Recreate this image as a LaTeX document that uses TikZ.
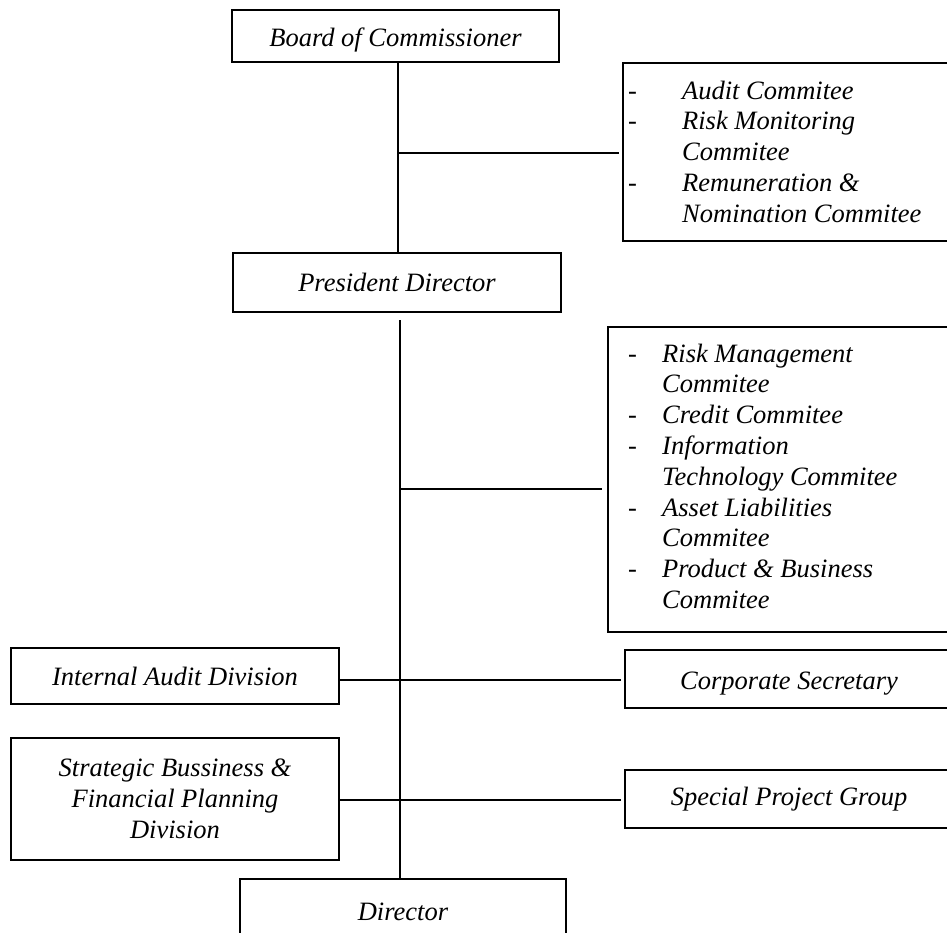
\documentclass[tikz,border=0pt]{standalone}
\usepackage{fontspec}
\setmainfont{Liberation Serif}
\begin{document}
\begin{tikzpicture}[x=1pt,y=-1pt,
  every node/.style={font=\itshape\fontsize{26.5}{30.8}\selectfont},
  orgbox/.style={draw=black, line width=1.5pt, rectangle, inner sep=0pt, align=center},
  listtext/.style={inner sep=0pt, align=left, anchor=north west},
  link/.style={line width=1.5pt}]
\useasboundingbox (0,0) rectangle (947,933);
\clip (0,0) rectangle (947,933);

% boxes (the tall struts lower the single-line labels a little)
\node[orgbox, minimum width=327pt, minimum height=52pt] (boc) at (395.5,36) {\rule{0pt}{27pt}Board of Commissioner};
\node[orgbox, minimum width=328pt, minimum height=59pt] (pd) at (397,282.5) {President Director};
\node[orgbox, minimum width=332pt, minimum height=178pt] (com1) at (789,152) {};
\node[orgbox, minimum width=347pt, minimum height=305pt] (com2) at (781.5,479.5) {};
\node[orgbox, minimum width=328pt, minimum height=56pt] (iad) at (175,676) {Internal Audit Division};
\node[orgbox, minimum width=328pt, minimum height=58pt] (cs) at (789,679) {\rule{0pt}{26pt}Corporate Secretary};
\node[orgbox, minimum width=328pt, minimum height=122pt] (sbf) at (175,799)
  {Strategic Bussiness \&\\Financial Planning\\Division};
\node[orgbox, minimum width=328pt, minimum height=58pt] (spg) at (789,799) {Special Project Group};
\node[orgbox, minimum width=326pt, minimum height=66pt] (dir) at (403,912) {Director};

% committee lists (the strut fixes the first baseline below the top anchor)
\node[listtext] (list1) at (628,77.4)
  {\strut\makebox[54pt][l]{-}Audit Commitee\\
   \makebox[54pt][l]{-}Risk Monitoring\\
   \hspace*{54pt}Commitee\\
   \makebox[54pt][l]{-}Remuneration \&\\
   \hspace*{54pt}Nomination Commitee};
\node[listtext] (list2) at (628,340.4)
  {\strut\makebox[34pt][l]{-}Risk Management\\
   \hspace*{34pt}Commitee\\
   \makebox[34pt][l]{-}Credit Commitee\\
   \makebox[34pt][l]{-}Information\\
   \hspace*{34pt}Technology Commitee\\
   \makebox[34pt][l]{-}Asset Liabilities\\
   \hspace*{34pt}Commitee\\
   \makebox[34pt][l]{-}Product \& Business\\
   \hspace*{34pt}Commitee};

% junction points on the spines
\coordinate (j1) at (398,153);
\coordinate (top2) at (400,320);
\coordinate (j2) at (400,489);
\coordinate (j3) at (400,680);
\coordinate (j4) at (400,800);

% connectors
\draw[link] (boc.south -| j1) -- (pd.north -| j1);
\draw[link, shorten >=3pt] (j1) -- (com1.west |- j1);
\draw[link] (top2) -- (top2 |- dir.north);
\draw[link, shorten >=5pt] (j2) -- (com2.west |- j2);
\draw[link] (iad.east |- j3) -- (j3);
\draw[link, shorten >=3pt] (j3) -- (cs.west |- j3);
\draw[link] (sbf.east |- j4) -- (j4);
\draw[link, shorten >=3pt] (j4) -- (spg.west |- j4);
\end{tikzpicture}
\end{document}
